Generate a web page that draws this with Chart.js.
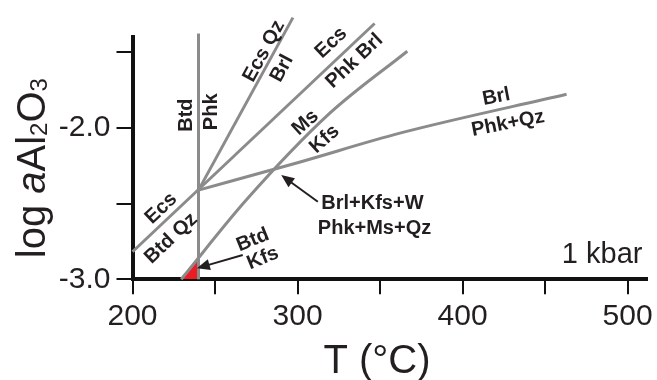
<!DOCTYPE html>
<html>
<head>
<meta charset="utf-8">
<script src="https://cdn.jsdelivr.net/npm/chart.js@4.4.1/dist/chart.umd.min.js"></script>
<style>
  html, body { margin: 0; padding: 0; background: #fff; }
  #wrap { width: 657px; height: 380px; }
</style>
</head>
<body>
<div id="wrap"><canvas id="diagram" width="657" height="380"></canvas></div>
<script>
// reaction lines, [T (°C), log aAl2O3] (1 kbar)
const btdPhk = [[240, -3.0], [240, -1.377]];
const ecsQzBrl = [[240, -2.411], [297.2, -1.272]];
const ecsBtdQz = [[200, -2.818], [346.7, -1.311]];
const msKfs = [[229.5, -3.0], [268.9, -2.477], [319.4, -1.905], [366.5, -1.494]];
const brlPhkQz = [[240, -2.411], [300, -2.23], [362, -2.035], [463, -1.778]];
const btdKfsField = [[229.5, -3.0], [240, -2.861]];

const xTickLabels = [200, 300, 400, 500];
const yTickLabels = [-3.0, -2.0];

// text on the diagram: [text, T, log a, angle]
const notes = [
  ["Btd", 232.5, -1.916, -90],
  ["Phk", 247.7, -1.894, -90],
  ["Ecs Qz", 279.7, -1.494, -61.6],
  ["Brl", 290.6, -1.608, -61.6],
  ["Ecs", 320.4, -1.438, -43.3],
  ["Phk Brl", 334.5, -1.559, -43.3],
  ["Ms", 304.8, -1.966, -42],
  ["Kfs", 316.4, -2.075, -42],
  ["Brl", 420.4, -1.796, -11],
  ["Phk+Qz", 427.5, -1.971, -11],
  ["Ecs", 217.4, -2.532, -43.3],
  ["Btd Qz", 223.4, -2.730, -43.3],
  ["Btd", 272.9, -2.741, -22],
  ["Kfs", 279.0, -2.861, -22]
];
const leftNotes = [
  ["Brl+Kfs+W", 314.4, -2.499],
  ["Phk+Ms+Qz", 312.3, -2.664]
];
const arrows = [
  [[312.3, -2.488], [290.1, -2.312]],
  [[266.8, -2.840], [239.0, -2.927]]
];

const FONT = "'Liberation Sans', Arial, sans-serif";
const INK = "#231f20";
const LINE = "#8b8b8b";

const toPts = arr => arr.map(([x, y]) => ({ x, y }));
const reaction = arr => ({
  data: toPts(arr), showLine: true, borderColor: LINE, borderWidth: 3,
  pointRadius: 0, fill: false, order: 1, clip: false,
  cubicInterpolationMode: "monotone"
});

const decorations = {
  id: "decorations",
  afterDatasetsDraw(chart) {
    const { ctx, scales: { x, y }, chartArea } = chart;
    ctx.save();
    ctx.fillStyle = INK;
    ctx.strokeStyle = INK;

    // arrows
    arrows.forEach(([from, to]) => {
      const x0 = x.getPixelForValue(from[0]), y0 = y.getPixelForValue(from[1]);
      const x1 = x.getPixelForValue(to[0]), y1 = y.getPixelForValue(to[1]);
      const a = Math.atan2(y1 - y0, x1 - x0);
      const len = 13, half = 5.5;
      ctx.lineWidth = 2;
      ctx.beginPath();
      ctx.moveTo(x0, y0);
      ctx.lineTo(x1 - Math.cos(a) * len * 0.8, y1 - Math.sin(a) * len * 0.8);
      ctx.stroke();
      ctx.beginPath();
      ctx.moveTo(x1, y1);
      ctx.lineTo(x1 - Math.cos(a) * len - Math.sin(a) * half, y1 - Math.sin(a) * len + Math.cos(a) * half);
      ctx.lineTo(x1 - Math.cos(a) * len + Math.sin(a) * half, y1 - Math.sin(a) * len - Math.cos(a) * half);
      ctx.closePath();
      ctx.fill();
    });

    // rotated labels
    ctx.font = "bold 20px " + FONT;
    ctx.textAlign = "center";
    ctx.textBaseline = "middle";
    notes.forEach(([text, t, v, rot]) => {
      ctx.save();
      ctx.translate(x.getPixelForValue(t), y.getPixelForValue(v));
      ctx.rotate(rot * Math.PI / 180);
      ctx.fillText(text, 0, 0);
      ctx.restore();
    });
    ctx.textAlign = "left";
    leftNotes.forEach(([text, t, v]) => {
      ctx.fillText(text, x.getPixelForValue(t), y.getPixelForValue(v));
    });

    // pressure
    ctx.font = "29px " + FONT;
    ctx.textAlign = "right";
    ctx.fillText("1 kbar", chartArea.right - 5, chartArea.bottom - 24);

    // x title
    ctx.font = "40px " + FONT;
    ctx.textAlign = "center";
    ctx.textBaseline = "alphabetic";
    ctx.fillText("T (°C)", (chartArea.left + chartArea.right) / 2 - 13, 373);

    // y title: log aAl2O3 with subscripts
    const parts = [
      ["log ", "40px"], ["a", "italic 40px"], ["Al", "40px"],
      ["2", "24px", 2], ["O", "40px"], ["3", "24px", 2]
    ];
    let total = 0;
    parts.forEach(([s, f]) => { ctx.font = f + " " + FONT; total += ctx.measureText(s).width; });
    ctx.save();
    ctx.translate(45, (chartArea.top + chartArea.bottom) / 2 + 10);
    ctx.rotate(-Math.PI / 2);
    ctx.textAlign = "left";
    let pos = -total / 2;
    parts.forEach(([s, f, shift]) => {
      ctx.font = f + " " + FONT;
      ctx.fillText(s, pos, shift || 0);
      pos += ctx.measureText(s).width;
    });
    ctx.restore();
    ctx.restore();
  }
};

new Chart(document.getElementById("diagram"), {
  type: "scatter",
  data: {
    datasets: [
      reaction(btdPhk),
      reaction(ecsQzBrl),
      reaction(ecsBtdQz),
      reaction(msKfs),
      reaction(brlPhkQz),
      {
        data: toPts(btdKfsField), showLine: true, borderWidth: 0,
        borderColor: "rgba(0,0,0,0)", backgroundColor: "#ec1c24",
        pointRadius: 0, fill: { value: -3 }, order: 5
      }
    ]
  },
  options: {
    responsive: false,
    animation: false,
    devicePixelRatio: 1,
    layout: { padding: { top: 37, right: 9, left: 0, bottom: 0 } },
    plugins: { legend: { display: false }, tooltip: { enabled: false } },
    scales: {
      x: {
        type: "linear", min: 200, max: 512,
        border: { display: true, color: "#111", width: 4 },
        grid: { drawOnChartArea: false, tickLength: 15, color: "#111", lineWidth: 2 },
        ticks: {
          stepSize: 50, includeBounds: false, autoSkip: false, maxRotation: 0,
          padding: 4, color: INK, font: { family: FONT, size: 30 },
          callback: v => xTickLabels.includes(v) ? String(v) : ""
        },
        afterFit: s => { s.height = 100.7; }
      },
      y: {
        type: "linear", min: -3.0, max: -1.4,
        border: { display: true, color: "#111", width: 4 },
        grid: { drawOnChartArea: false, tickLength: 16, color: "#111", lineWidth: 2 },
        ticks: {
          stepSize: 0.5, includeBounds: false, autoSkip: false,
          padding: 6, color: INK, font: { family: FONT, size: 30 },
          callback: v => yTickLabels.includes(v) ? v.toFixed(1) : ""
        },
        afterFit: s => { s.width = 132.5; }
      }
    }
  },
  plugins: [decorations]
});
</script>
</body>
</html>
